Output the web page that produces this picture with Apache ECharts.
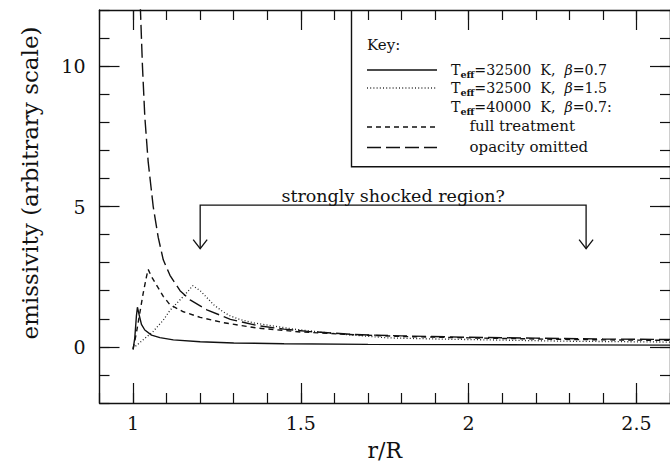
<!DOCTYPE html>
<html>
<head>
<meta charset="utf-8">
<script src="https://cdn.jsdelivr.net/npm/echarts@6/dist/echarts.min.js"></script>
<style>
html,body{margin:0;padding:0;background:#fff;}
#chart{width:670px;height:466px;}
</style>
</head>
<body>
<div id="chart"></div>
<script>
// ---- data ----
const rSolid  = [1.0, 1.005, 1.01, 1.013, 1.018, 1.025, 1.035, 1.055, 1.08, 1.12, 1.2, 1.3, 1.45, 1.7, 2.0, 2.3, 2.6];
const emSolid = [-0.1, 0.3, 1.1, 1.41, 1.15, 0.8, 0.6, 0.42, 0.33, 0.25, 0.18, 0.14, 0.11, 0.09, 0.08, 0.07, 0.06];

const rBeta15  = [1.0, 1.01, 1.03, 1.06, 1.09, 1.11, 1.13, 1.15, 1.165, 1.178, 1.2, 1.218, 1.24, 1.267, 1.29, 1.317, 1.36, 1.415, 1.48, 1.564, 1.65, 1.76, 1.9, 2.1, 2.3, 2.6];
const emBeta15 = [-0.05, 0.05, 0.25, 0.55, 0.95, 1.3, 1.55, 1.8, 2.0, 2.18, 2.0, 1.78, 1.5, 1.26, 1.1, 0.98, 0.85, 0.75, 0.63, 0.52, 0.42, 0.32, 0.28, 0.24, 0.2, 0.17];

const rFull  = [1.0, 1.01, 1.02, 1.03, 1.04, 1.045, 1.055, 1.07, 1.09, 1.11, 1.15, 1.2, 1.27, 1.37, 1.5, 1.66, 1.8, 2.0, 2.2, 2.4, 2.6];
const emFull = [-0.08, 0.5, 1.2, 1.9, 2.5, 2.76, 2.5, 2.2, 1.8, 1.5, 1.25, 1.05, 0.86, 0.67, 0.53, 0.43, 0.37, 0.32, 0.28, 0.25, 0.23];

const rOpac  = [1.018, 1.022, 1.028, 1.035, 1.045, 1.06, 1.075, 1.09, 1.11, 1.14, 1.17, 1.22, 1.29, 1.37, 1.45, 1.52, 1.66, 1.8, 2.0, 2.2, 2.4, 2.6];
const emOpac = [13.5, 12, 10, 8.2, 6.6, 5.0, 3.9, 3.1, 2.55, 2.0, 1.67, 1.32, 0.98, 0.76, 0.63, 0.55, 0.44, 0.39, 0.34, 0.31, 0.28, 0.26];

const xMajorTicks = [1, 1.5, 2, 2.5];
const xMajorLabels = ['1', '1.5', '2', '2.5'];
const yMajorTicks = [0, 5, 10];
const yMajorLabels = ['0', '5', '10'];

const xTitle = 'r/R';
const yTitle = 'emissivity (arbitrary scale)';
const annotationText = 'strongly shocked region?';
const bracketX = [1.2, 2.35];
const bracketTopY = 5.05;
const arrowTipY = 3.5;
const annotationTextY = 5.39;

const keyTitle = 'Key:';
const keyTemps = ['32500', '32500', '40000'];
const keyBetas = ['0.7', '1.5', '0.7:'];
const keySubLabels = ['full treatment', 'opacity omitted'];

// ---- chart ----
const FONT = 'DejaVu Serif';
const INK = '#111';
const X_MIN = 0.9, X_MAX = 2.6, Y_MIN = -2, Y_MAX = 12;
const zip = (a, b) => a.map((v, i) => [v, b[i]]);

const chart = echarts.init(document.getElementById('chart'), null, {renderer: 'svg'});

function xAx(pos, major) {
  return {
    type: 'value', min: X_MIN, max: X_MAX, position: pos,
    interval: major ? undefined : 0.1,
    axisLine: {show: major, onZero: false, lineStyle: {color: INK, width: 1.4}},
    axisTick: major
      ? {show: true, inside: true, length: 20, customValues: xMajorTicks, lineStyle: {color: INK, width: 1.2}}
      : {show: true, inside: true, length: 10, lineStyle: {color: INK, width: 1.2}},
    axisLabel: (major && pos === 'bottom')
      ? {show: true, customValues: xMajorTicks, margin: 10, color: INK, fontFamily: FONT, fontSize: 19,
         formatter: v => xMajorLabels[xMajorTicks.indexOf(+v.toFixed(3))] ?? ''}
      : {show: false},
    splitLine: {show: false}
  };
}
function yAx(pos, major) {
  return {
    type: 'value', min: Y_MIN, max: Y_MAX, position: pos,
    interval: major ? undefined : 1,
    axisLine: {show: major, onZero: false, lineStyle: {color: INK, width: 1.4}},
    axisTick: major
      ? {show: true, inside: true, length: 20, customValues: yMajorTicks, lineStyle: {color: INK, width: 1.2}}
      : {show: true, inside: true, length: 10, lineStyle: {color: INK, width: 1.2}},
    axisLabel: (major && pos === 'left')
      ? {show: true, customValues: yMajorTicks, margin: 14, color: INK, fontFamily: FONT, fontSize: 19,
         formatter: v => yMajorLabels[yMajorTicks.indexOf(Math.round(v))] ?? ''}
      : {show: false},
    splitLine: {show: false}
  };
}

const xAxes = [xAx('bottom', true), xAx('bottom', false), xAx('top', true), xAx('top', false)];
xAxes[0].name = xTitle;
xAxes[0].nameLocation = 'middle';
xAxes[0].nameGap = 36;
xAxes[0].nameTextStyle = {fontFamily: FONT, fontSize: 22, color: INK};

const lineBase = {type: 'line', showSymbol: false, symbol: 'none', clip: true, xAxisIndex: 0, yAxisIndex: 0, animation: false, z: 3};

const option = {
  animation: false,
  backgroundColor: '#fff',
  grid: {left: 99.5, right: -2, top: 10, bottom: 50.5, containLabel: false},
  xAxis: xAxes,
  yAxis: [yAx('left', true), yAx('left', false), yAx('right', true), yAx('right', false)],
  series: [
    Object.assign({}, lineBase, {name: 'Teff=32500 K, beta=0.7', data: zip(rSolid, emSolid),
      lineStyle: {color: INK, width: 1.4, type: 'solid'}}),
    Object.assign({}, lineBase, {name: 'Teff=32500 K, beta=1.5', data: zip(rBeta15, emBeta15),
      lineStyle: {color: '#222', width: 1.3, type: [1, 2.2]}}),
    Object.assign({}, lineBase, {name: 'full treatment', data: zip(rFull, emFull),
      lineStyle: {color: INK, width: 1.4, type: [5, 4]}}),
    Object.assign({}, lineBase, {name: 'opacity omitted', data: zip(rOpac, emOpac),
      lineStyle: {color: INK, width: 1.4, type: [14, 5]}})
  ]
};
chart.setOption(option);

// ---- annotations & key (positioned through the chart's own scales) ----
function px(x, y) { return chart.convertToPixel({xAxisIndex: 0, yAxisIndex: 0}, [x, y]); }
const g = [];
const stroke = {stroke: INK, lineWidth: 1.3, fill: null};

// y axis title
const yTop = px(X_MIN, Y_MAX)[1];
g.push({type: 'text', x: 30, y: 183, rotation: Math.PI / 2,
  style: {text: yTitle, font: '23px "' + FONT + '"', fill: INK, align: 'center', verticalAlign: 'middle'}});

// bracket
const pL = px(bracketX[0], bracketTopY), pR = px(bracketX[1], bracketTopY);
const tL = px(bracketX[0], arrowTipY), tR = px(bracketX[1], arrowTipY);
g.push({type: 'polyline', shape: {points: [tL, pL, pR, tR]}, style: stroke, z: 10});
[tL, tR].forEach(t => {
  g.push({type: 'polyline', shape: {points: [[t[0] - 7, t[1] - 9], t, [t[0] + 7, t[1] - 9]]}, style: stroke, z: 10});
});
const pt = px((bracketX[0] + bracketX[1]) / 2, annotationTextY);
g.push({type: 'text', x: pt[0], y: pt[1], z: 10,
  style: {text: annotationText, font: '17.5px "' + FONT + '"', fill: INK, align: 'center', verticalAlign: 'middle'}});

// key box
const right = px(X_MAX, 0)[0];
const boxL = 351.5, boxB = 166.7;
g.push({type: 'polyline', shape: {points: [[boxL, yTop], [boxL, boxB], [right, boxB]]}, style: {stroke: INK, lineWidth: 1.4, fill: null}, z: 9});
const kf = '15px "' + FONT + '"';
const kf2 = '14.2px "' + FONT + '"';
g.push({type: 'text', x: 367, y: 45, style: {text: keyTitle, font: kf, fill: INK, verticalAlign: 'middle'}});
const rowsY = [70, 88, 107];
const sampleTypes = [[], [1, 2.2], null];
keyTemps.forEach((t, i) => {
  g.push({type: 'text', x: 451, y: rowsY[i], style: {
    text: '{T|T}{s|eff}{n|=' + t + '  K,  }{b|β}{n|=' + keyBetas[i] + '}',
    verticalAlign: 'middle', fill: INK,
    rich: {T: {font: kf2, fill: INK}, n: {font: kf2, fill: INK},
           b: {font: 'italic 14.2px "' + FONT + '"', fill: INK},
           s: {font: 'bold 9.5px "' + FONT + '"', fill: INK, padding: [8, 0, 0, 0]}}}});
  if (sampleTypes[i]) {
    g.push({type: 'line', shape: {x1: 367, y1: rowsY[i], x2: 437, y2: rowsY[i]},
      style: {stroke: i === 1 ? '#333' : INK, lineWidth: 1.3, lineDash: sampleTypes[i].length ? sampleTypes[i] : null}});
  }
});
const subY = [127, 147.5];
const subDash = [[5, 4], [14, 5]];
keySubLabels.forEach((s, i) => {
  g.push({type: 'line', shape: {x1: 367, y1: subY[i], x2: 437, y2: subY[i]},
    style: {stroke: INK, lineWidth: 1.3, lineDash: subDash[i]}});
  g.push({type: 'text', x: 469.5, y: subY[i] - 1, style: {text: s, font: kf, fill: INK, verticalAlign: 'middle'}});
});

chart.setOption({graphic: {elements: g}});
</script>
</body>
</html>
